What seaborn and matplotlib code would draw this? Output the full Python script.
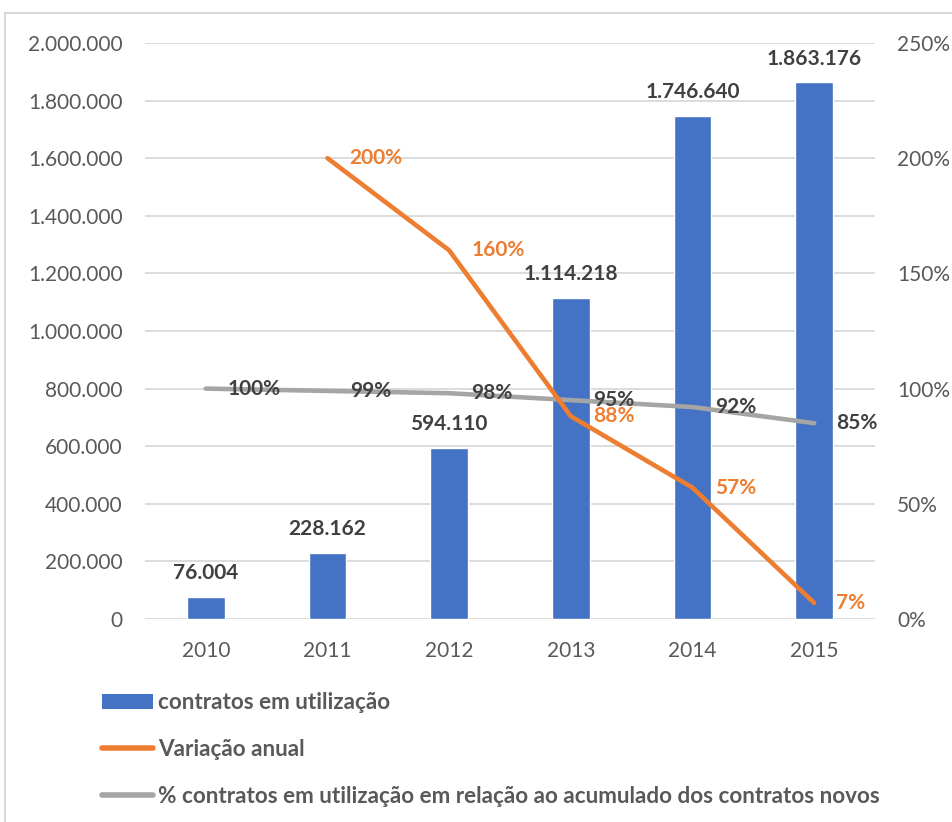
import numpy as np
import pandas as pd
import matplotlib
matplotlib.use("Agg")
import matplotlib.pyplot as plt
import seaborn as sns
from matplotlib.lines import Line2D
from matplotlib.patches import Patch

# ---- data ----
anos = ["2010", "2011", "2012", "2013", "2014", "2015"]
contratos = [76004, 228162, 594110, 1114218, 1746640, 1863176]
variacao_anual = [np.nan, 2.00, 1.60, 0.88, 0.57, 0.07]
pct_acumulado = [1.00, 0.99, 0.98, 0.95, 0.92, 0.85]
y_ticks_left = [0, 200000, 400000, 600000, 800000, 1000000, 1200000, 1400000, 1600000, 1800000, 2000000]
y_ticks_right = [0, 0.5, 1.0, 1.5, 2.0, 2.5]
leg_labels = ["contratos em utilização", "Variação anual",
              "% contratos em utilização em relação ao acumulado dos contratos novos"]

BLUE = "#4472C4"
ORANGE = "#ED7D31"
GRAY = "#A5A5A5"
TICK = "#595959"
LAB = "#404040"
GRID = "#D9D9D9"

sns.set_style("white")
plt.rcParams["font.family"] = ["Lato", "DejaVu Sans"]

def fmt_num(v):
    return f"{int(v):,}".replace(",", ".")

df = pd.DataFrame({"ano": anos, "contratos": contratos,
                   "var": variacao_anual, "pct": pct_acumulado})
df["pos"] = np.arange(len(df))

fig = plt.figure(figsize=(9.53, 8.22), dpi=100)
ax = fig.add_axes([145/953, 1-619/822, (875-145)/953, (619-43)/822])

sns.barplot(data=df, x="ano", y="contratos", color=BLUE, saturation=1,
            width=0.31, ax=ax, zorder=2)
ax.set_xlim(-0.5, len(anos)-0.5)
ax.set_ylim(0, 2000000)
ax.set_yticks(y_ticks_left)
ax.set_yticklabels([fmt_num(v) for v in y_ticks_left])
ax.set_axisbelow(True)
ax.yaxis.grid(True, color=GRID, linewidth=1.3)
ax.set_xlabel("")
ax.set_ylabel("")
for s in ax.spines.values():
    s.set_visible(False)
ax.tick_params(axis="both", length=0, labelsize=15, colors=TICK)
ax.tick_params(axis="y", pad=16)
ax.tick_params(axis="x", pad=16)
ax.bar_label(ax.containers[0], labels=[fmt_num(v) for v in contratos],
             padding=10, fontsize=15, fontweight="bold", color=LAB)

ax2 = ax.twinx()
d_var = df.dropna(subset=["var"])
sns.lineplot(data=d_var, x="pos", y="var", color=ORANGE, linewidth=3.3,
             ax=ax2, legend=False, zorder=4)
sns.lineplot(data=df, x="pos", y="pct", color=GRAY, linewidth=3.3,
             ax=ax2, legend=False, zorder=3)
ax2.set_xlim(-0.5, len(anos)-0.5)
ax2.set_ylim(0, 2.5)
ax2.set_yticks(y_ticks_right)
ax2.set_yticklabels([f"{int(round(v*100))}%" for v in y_ticks_right])
ax2.set_xlabel("")
ax2.set_ylabel("")
for s in ax2.spines.values():
    s.set_visible(False)
ax2.tick_params(axis="both", length=0, labelsize=15, colors=TICK)
ax2.tick_params(axis="y", pad=16)

for p, v in zip(df["pos"], df["pct"]):
    ax2.annotate(f"{int(round(v*100))}%", xy=(p, v), xytext=(16, 0),
                 textcoords="offset points", ha="left", va="center",
                 fontsize=15, fontweight="bold", color=LAB, zorder=6)
for p, v in zip(d_var["pos"], d_var["var"]):
    ax2.annotate(f"{int(round(v*100))}%", xy=(p, v), xytext=(16, 0),
                 textcoords="offset points", ha="left", va="center",
                 fontsize=15, fontweight="bold", color=ORANGE, zorder=6)

handles = [Patch(facecolor=BLUE, edgecolor="none"),
           Line2D([], [], color=ORANGE, linewidth=4, solid_capstyle="round"),
           Line2D([], [], color=GRAY, linewidth=4, solid_capstyle="round")]
leg = fig.legend(handles, leg_labels, loc="upper left",
                 bbox_to_anchor=(102/953, 1-692/822), frameon=False,
                 borderpad=0, borderaxespad=0, handlelength=2.25,
                 handleheight=0.65, handletextpad=0.25, labelspacing=1.15,
                 prop={"size": 16.2, "weight": "bold"})
for t in leg.get_texts():
    t.set_color(TICK)

# chart border
fig.add_artist(Line2D([5/953, 5/953], [0, 1-13/822], color=GRID, linewidth=1.5,
                      transform=fig.transFigure))
fig.add_artist(Line2D([5/953, 1], [1-13/822, 1-13/822], color=GRID, linewidth=1.5,
                      transform=fig.transFigure))

fig.savefig("out.png", dpi=100)
